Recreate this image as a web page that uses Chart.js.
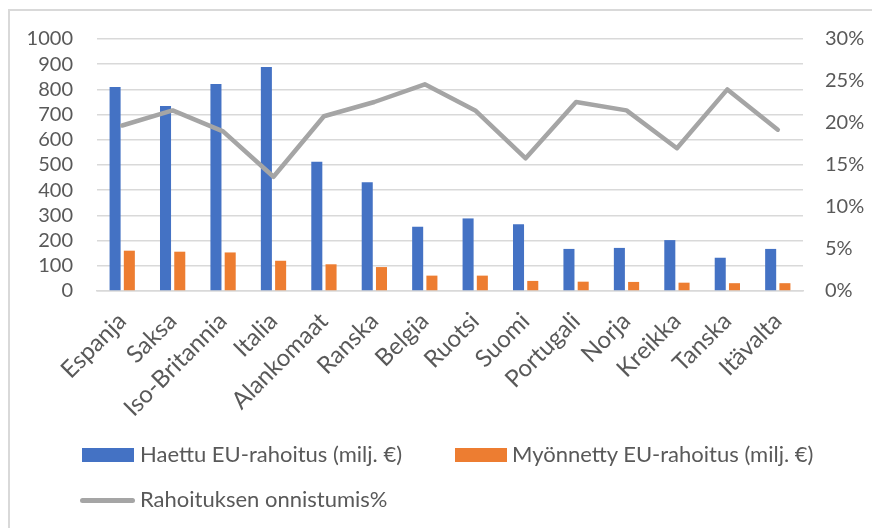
<!DOCTYPE html>
<html>
<head>
<meta charset="utf-8">
<script src="https://cdn.jsdelivr.net/npm/chart.js@4/dist/chart.umd.min.js"></script>
<style>
  html, body { margin: 0; padding: 0; background: #ffffff; }
  #wrap { position: relative; width: 872px; height: 528px; overflow: hidden; font-family: Lato, "Open Sans", sans-serif; }
  #frame { position: absolute; left: 8px; top: 9px; width: 900px; height: 600px; border-left: 2px solid #d9d9d9; border-top: 2px solid #d9d9d9; }
  canvas { position: absolute; left: 0; top: 0; }
  .lg { position: absolute; color: #595959; font-size: 22px; line-height: 22px; white-space: nowrap; }
  .box { position: absolute; }
</style>
</head>
<body>
<div id="wrap">
  <div id="frame"></div>
  <canvas id="c" width="872" height="528"></canvas>
  <div id="legend"></div>
</div>
<script>
const categories = ["Espanja", "Saksa", "Iso-Britannia", "Italia", "Alankomaat", "Ranska", "Belgia", "Ruotsi", "Suomi", "Portugali", "Norja", "Kreikka", "Tanska", "Itävalta"];
const haettu = [810, 734, 821, 889, 513, 432, 255, 288, 265, 167, 171, 202, 132, 167];
const myonnetty = [160, 156, 153, 120, 106, 95, 61, 61, 40, 37, 36, 33, 31, 31];
const onnistumis = [19.7, 21.5, 19.0, 13.6, 20.8, 22.5, 24.6, 21.5, 15.8, 22.5, 21.5, 17.0, 24.0, 19.2];
const leftTicks = [0, 100, 200, 300, 400, 500, 600, 700, 800, 900, 1000];
const rightTicks = [0, 5, 10, 15, 20, 25, 30];
const seriesNames = ["Haettu EU-rahoitus (milj. €)", "Myönnetty EU-rahoitus (milj. €)", "Rahoituksen onnistumis%"];

const textColor = "#595959";
const fontFamily = 'Lato, "Open Sans", sans-serif';

new Chart(document.getElementById("c"), {
  data: {
    labels: categories,
    datasets: [
      { type: "line", label: seriesNames[2], data: onnistumis, yAxisID: "y1", borderColor: "#a5a5a5", backgroundColor: "#a5a5a5", borderWidth: 4.5, pointRadius: 0, tension: 0, borderJoinStyle: "round", borderCapStyle: "round", order: 0 },
      { type: "bar", label: seriesNames[0], data: haettu, yAxisID: "y", backgroundColor: "#4472c4", categoryPercentage: 0.565, barPercentage: 0.775, order: 1 },
      { type: "bar", label: seriesNames[1], data: myonnetty, yAxisID: "y", backgroundColor: "#ed7d31", categoryPercentage: 0.565, barPercentage: 0.775, order: 1 }
    ]
  },
  options: {
    responsive: false,
    animation: false,
    devicePixelRatio: 1,
    layout: { padding: { top: 39, left: 0, right: 0, bottom: 77 } },
    plugins: { legend: { display: false }, tooltip: { enabled: false } },
    scales: {
      x: {
        grid: { display: false },
        border: { display: true, color: "#d9d9d9", width: 1.5 },
        ticks: { color: textColor, font: { family: fontFamily, size: 24 }, minRotation: 45, maxRotation: 45, autoSkip: false, padding: 8 },
        afterCalculateLabelRotation: (s) => { s.labelRotation = 45; },
        afterFit: (s) => { s.height = 160; }
      },
      y: {
        position: "left",
        min: 0, max: 1000,
        afterBuildTicks: (s) => { s.ticks = leftTicks.map(v => ({ value: v })); },
        grid: { color: "#d9d9d9", lineWidth: 1.5, drawTicks: false },
        border: { display: false },
        ticks: { color: textColor, font: { family: fontFamily, size: 20 }, padding: 24, autoSkip: false, callback: (v) => String(v) },
        afterFit: (s) => { s.width = 97; }
      },
      y1: {
        position: "right",
        min: 0, max: 30,
        afterBuildTicks: (s) => { s.ticks = rightTicks.map(v => ({ value: v })); },
        grid: { display: false, drawTicks: false },
        border: { display: false },
        ticks: { color: textColor, font: { family: fontFamily, size: 20 }, padding: 22, autoSkip: false, callback: (v) => v + "%" },
        afterFit: (s) => { s.width = 69; }
      }
    }
  }
});

// HTML legend built from the series names
const legend = document.getElementById("legend");
const items = [
  { name: seriesNames[0], color: "#4472c4", kind: "box", bx: 82, tx: 140, cy: 455 },
  { name: seriesNames[1], color: "#ed7d31", kind: "box", bx: 455, tx: 512, cy: 455 },
  { name: seriesNames[2], color: "#a5a5a5", kind: "line", bx: 80, tx: 140, cy: 500 }
];
items.forEach(it => {
  const b = document.createElement("div");
  b.className = "box";
  b.style.background = it.color;
  if (it.kind === "box") {
    b.style.left = it.bx + "px"; b.style.top = (it.cy - 7) + "px"; b.style.width = "52px"; b.style.height = "14px";
  } else {
    b.style.left = it.bx + "px"; b.style.top = (it.cy - 2.5) + "px"; b.style.width = "55px"; b.style.height = "5px"; b.style.borderRadius = "3px";
  }
  legend.appendChild(b);
  const t = document.createElement("div");
  t.className = "lg";
  t.textContent = it.name;
  t.style.left = it.tx + "px"; t.style.top = (it.cy - 12) + "px";
  legend.appendChild(t);
});
</script>
</body>
</html>
